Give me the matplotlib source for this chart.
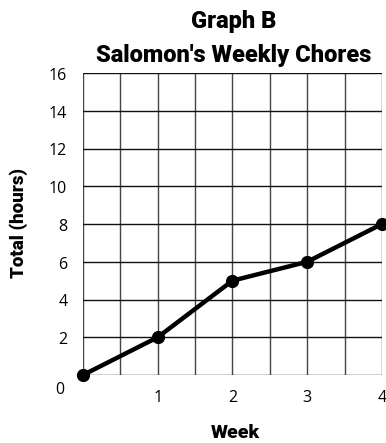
import matplotlib.pyplot as plt
import matplotlib.transforms as mtransforms

weeks = [0, 1, 2, 3, 4]
hours = [0, 2, 5, 6, 8]
y_ticks = [2, 4, 6, 8, 10, 12, 14, 16]
x_ticks = [1, 2, 3, 4]

fig = plt.figure(figsize=(3.86, 4.43), dpi=100)
ax = fig.add_axes([0.215, 0.1535, 0.7745, 0.6815])
ax.set_xlim(0, 4)
ax.set_ylim(0, 16)

# grid: half-week columns, 2-hour rows
for gx in [i * 0.5 for i in range(9)]:
    ax.axvline(gx, color='#444444', lw=1.0, zorder=1)
for gy in range(0, 17, 2):
    ax.axhline(gy, color='#111111', lw=1.0, zorder=1)

ax.plot(weeks, hours, color='black', lw=3.2, marker='o', markersize=8.5,
        solid_capstyle='round', zorder=3, clip_on=False)

for s in ax.spines.values():
    s.set_visible(False)
ax.set_xticks([])
ax.set_yticks([])

tick_font = dict(family='Open Sans', fontsize=11.5, color='black')
down = mtransforms.ScaledTranslation(0, -2 / 72, fig.dpi_scale_trans)
for v in y_ticks:
    ax.text(-0.21, v, str(v), ha='right', va='center',
            transform=ax.transData + down, **tick_font)
ax.text(-0.31, -0.8, '0', ha='center', va='center', **tick_font)
for v in x_ticks:
    ax.text(v, -1.2, str(v), ha='center', va='center', clip_on=False, **tick_font)

label_font = dict(family=['Roboto', 'Lato'], fontweight='black', color='black')
fig.text(0.611, 0.0113, 'Week', ha='center', va='baseline', fontsize=14, **label_font)
fig.text(0.049, 0.497, 'Total (hours)', ha='center', va='center', rotation=90,
         fontsize=13.5, **label_font)
fig.text(0.605, 0.937, 'Graph B', ha='center', va='baseline', fontsize=17, **label_font)
fig.text(0.605, 0.860, "Salomon's Weekly Chores", ha='center', va='baseline',
         fontsize=17, **label_font)

fig.savefig('out.png', dpi=100)
